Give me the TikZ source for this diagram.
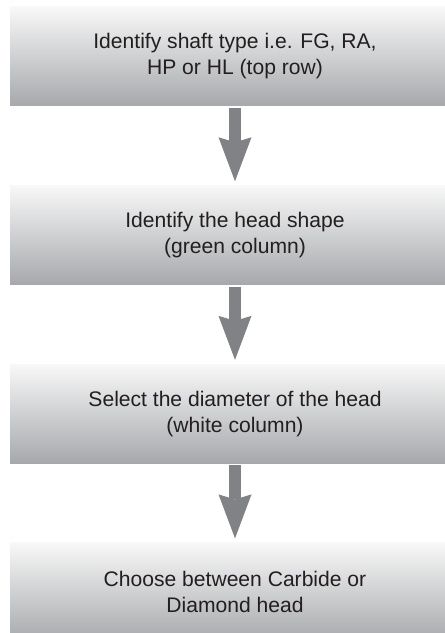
\documentclass[tikz,border=0pt]{standalone}
\usepackage{fontspec}
\setmainfont{Liberation Sans}
\definecolor{boxTop}{RGB}{248, 248, 248}
\definecolor{boxBottom}{RGB}{166, 168, 171}
\definecolor{arrowGrey}{RGB}{128, 130, 133}
\definecolor{textDark}{RGB}{35, 31, 32}
\usetikzlibrary{arrows.meta, positioning}

\begin{document}
\begin{tikzpicture}[
    stepbox/.style={rectangle, top color=boxTop, bottom color=boxBottom,
      minimum width=11.25cm, minimum height=2.475cm, align=center,
      text=textDark, font=\fontsize{15}{18.5}\selectfont},
    flowarrow/.style={arrowGrey, line width=0.3cm, shorten <=0.05cm, shorten >=0.1cm,
      -{Stealth[length=1.1cm, width=0.825cm, inset=0.125cm, line width=0pt]}},
    node distance=1.975cm
  ]
  % Page size, right side is cut off
  \useasboundingbox (0,0) rectangle (11.125,-15.825);
  \clip (0,0) rectangle (11.125,-15.825);

  % Steps
  \node[stepbox] (shaft) at (5.875,-1.4125) {Identify shaft type i.e. FG, RA,\\HP or HL (top row)};
  \node[stepbox, below=of shaft] (shape) {Identify the head shape\\(green column)};
  \node[stepbox, below=of shape] (diameter) {Select the diameter of the head\\(white column)};
  \node[stepbox, below=of diameter] (material) {Choose between Carbide or\\Diamond head};

  % Arrows
  \foreach \a/\b in {shaft/shape, shape/diameter, diameter/material} {
    \draw[flowarrow] (\a) -- (\b);
  }
\end{tikzpicture}
\end{document}
